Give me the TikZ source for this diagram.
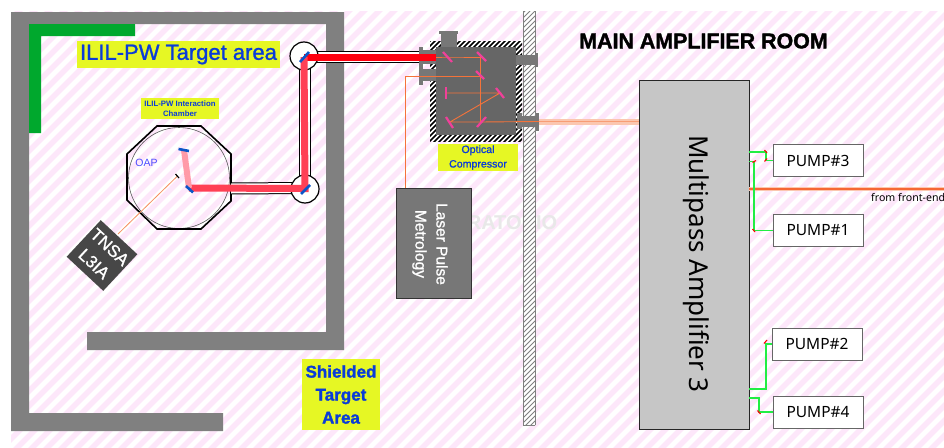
\documentclass[tikz,border=0pt]{standalone}
\usepackage{fontspec}
\setmainfont{Liberation Sans}
\newfontfamily\lucid{Noto Sans}
\newfontfamily\fakeb[FakeBold=1.2]{Liberation Sans}
\newfontfamily\fakebb[FakeBold=1.6]{Liberation Sans Bold}
\definecolor{stripepink}{HTML}{FDE7FA}
\definecolor{wallgray}{HTML}{808080}
\definecolor{portgray}{HTML}{777777}
\definecolor{compgray}{HTML}{666666}
\definecolor{wgreen}{HTML}{00A82D}
\definecolor{lab}{HTML}{E6F724}
\definecolor{labtext}{HTML}{0A3CD8}
\definecolor{beamred}{HTML}{FF0010}
\definecolor{beamlite}{HTML}{FF4055}
\definecolor{beampale}{HTML}{FF9AA8}
\definecolor{orline}{HTML}{F5733A}
\definecolor{mirblue}{HTML}{0B55C8}
\definecolor{mirpink}{HTML}{F0409A}
\definecolor{pumpgreen}{HTML}{22EE44}
\tikzset{
  x=1pt,y=-1pt,
  lbl/.style={fill=lab,text=labtext,inner sep=0pt,align=center,font=#1},
  tube/.style={draw=black,line width=1pt,double=white,double distance=10pt},
  bluemir/.style={draw=mirblue,line width=2.6pt},
  pinkmir/.style={draw=mirpink,line width=2.2pt},
  opt/.style={draw=orline,line width=0.9pt},
  pumpbox/.style={draw=gray!80!black,fill=white,line width=0.8pt,minimum width=90pt,minimum height=32pt,inner sep=0pt,font=\lucid\fontsize{15.5}{15.5}\selectfont},
  pumpline/.style={draw=pumpgreen,line width=1.3pt},
  tick/.style={draw=red,line width=1.1pt},
  port/.style={fill=portgray},
}
\begin{document}
\begin{tikzpicture}
\useasboundingbox (0,0) rectangle (944,447);
\fill[white] (0,0) rectangle (944,447);
% striped floor
\begin{scope}
\clip (11,11) rectangle (944,447);
\foreach \i in {0,15,...,1400}{
  \draw[stripepink,line width=5.5pt] (\i,0) -- (\i-460,460);
}
\end{scope}
% watermark
\node[text=gray!18,font=\bfseries\fontsize{20}{20}\selectfont,inner sep=0pt] (wm) at (512,223) {RATORIO};
% shield walls
\fill[wallgray] (11,12) -- (344,12) -- (344,350) -- (87,350) -- (87,332) -- (326,332) -- (326,24) -- (29,24) -- (29,413) -- (223,413) -- (223,431) -- (11,431) -- cycle;
\fill[wgreen] (29,24) -- (135,24) -- (135,36) -- (41,36) -- (41,133) -- (29,133) -- cycle;
% labels
\node[lbl=\fakeb\fontsize{22}{22}\selectfont,minimum width=203pt,minimum height=27pt] (targetlab) at (178.5,54.5) {ILIL-PW Target area};
\node[lbl=\bfseries\fontsize{7.8}{10}\selectfont,minimum width=78pt,minimum height=21pt] (chamberlab) at (180,108.5) {ILIL-PW Interaction\\Chamber};
\node[lbl=\fakebb\fontsize{17}{23}\selectfont,minimum width=78pt,minimum height=71pt] (shieldlab) at (341,394.5) {Shielded\\Target\\Area};
\node[font=\fakebb\fontsize{21.4}{22}\selectfont,inner sep=0pt] (mainroom) at (703.5,41) {MAIN AMPLIFIER ROOM};
% chamber
\node[circle,draw=gray!70!black,line width=0.6pt,minimum size=101pt,inner sep=0pt] (chambercirc) at (179,178) {};
\draw[black,line width=1.6pt] (157,126) -- (201,126) -- (231,154) -- (231,201) -- (201,229) -- (157,229) -- (127,200) -- (127,154) -- cycle;
% mirror positions
\coordinate (m1) at (304,57);
\coordinate (m2) at (305,188);
\coordinate (m3) at (189,188);
\coordinate (m4) at (184,150);
\coordinate (compin) at (436,57);
% tubes
\draw[tube] (231,188.5) -- (m2);
\draw[tube] (305,60) -- (305,185);
\draw[tube] (m1) -- (420,57);
\node[circle,draw=black,fill=white,line width=1.2pt,minimum size=28pt,inner sep=0pt] (c1) at (304,56) {};
\node[circle,draw=black,fill=white,line width=1.2pt,minimum size=28pt,inner sep=0pt] (c2) at (305,189) {};
% wall
\begin{scope}
\clip (523,11) rectangle (535,425);
\fill[white] (523,11) rectangle (535,425);
\foreach \i in {0,5,...,450}{
  \draw[gray,line width=1pt] (520,\i+11) -- (540,\i-9);
}
\end{scope}
\draw[gray,line width=0.5pt] (523,11) -- (523,425) (535,11) -- (535,425) (523,425) -- (535,425);
% compressor
\begin{scope}
\clip (430,41) rectangle (522,141);
\fill[white] (430,41) rectangle (522,141);
\foreach \i in {0,5,...,200}{
  \draw[black,line width=1.6pt] (425,\i+41) -- (530,\i-64);
}
\end{scope}
\fill[compgray] (436,47) rectangle (516,135);
% ports
\fill[port] (441,33) rectangle (457,47);
\fill[port] (439,31) rectangle (458,34);
\fill[port] (423,50) rectangle (436,64);
\fill[port] (419,47) rectangle (423,66);
\fill[port] (423,69) rectangle (436,81);
\fill[port] (419,66) rectangle (423,85);
\fill[port] (516,55) rectangle (535,65);
\fill[port] (535,53) rectangle (538,67);
\fill[port] (522,116) rectangle (537,127);
\fill[port] (517,113) rectangle (522,129);
\fill[port] (536,113) rectangle (539,131);
% outgoing pale beam
\coordinate (portout) at (539,121.5);
\draw[orline!40,line width=6pt] (portout) -- (639,121.5);
\draw[orline!70,line width=0.9pt] (portout) -- (639,121.5);
% compressor optics
\coordinate (g1) at (447.5,57);
\coordinate (g2) at (480,57);
\coordinate (g3) at (480,76);
\coordinate (g4) at (500,93);
\coordinate (g5) at (446,93);
\coordinate (g6) at (450,122);
\coordinate (g7) at (480,122);
\coordinate (metrotop) at (405,76);
\draw[opt] (compin) -- (g1) -- (g2) -- (g7);
\draw[opt] (g5) -- (g4) -- (g6) -- (g7) -- (portout);
\draw[opt] (g3) -- (metrotop);
\draw[pinkmir] (443,52) -- (452,62);
\draw[pinkmir] (477,52) -- (486,61);
\draw[pinkmir] (476,71) -- (484,79);
\draw[pinkmir] (446,87) -- (446,99);
\draw[pinkmir] (496,88) -- (504,98);
\draw[pinkmir] (446,117) -- (453,128);
\draw[pinkmir] (477,127) -- (486,117);
\node[lbl=\fakeb\fontsize{10.6}{14.5}\selectfont,minimum width=80pt,minimum height=27pt] (complab) at (478,157.5) {Optical\\Compressor};
% beams
\draw[beamred,line width=7pt] (m1) -- (compin);
\draw[beamlite,line width=7pt,line join=miter] (m1) -- (305,188.5) -- (m3);
\draw[beampale,line width=6pt] (m3) -- (m4);
\draw[bluemir] (300,62) -- (309,52);
\draw[bluemir] (301,194) -- (310,185);
\draw[bluemir] (186,186) -- (193,192.5);
\draw[bluemir] (178.5,149) -- (189,151);
% target line
\node[rotate=-43,fill=black!72,text=white,font=\fakeb\fontsize{17}{23}\selectfont,minimum width=50pt,minimum height=50pt,inner sep=0pt,align=center] (tnsa) at (102,255.5) {TNSA\\L3IA};
\coordinate (focus) at (177.5,176);
\draw[orline!80,line width=0.8pt] (focus) -- (118,234);
\draw[black,line width=1.2pt] (175.5,174) -- (179,178);
\node[text=blue!70!white,font=\fontsize{10.5}{10}\selectfont,inner sep=0pt] (oap) at (146.5,163) {OAP};
% metrology
\node[draw=black!80,fill=portgray,line width=0.9pt,minimum width=75pt,minimum height=110pt,inner sep=0pt] (metro) at (433.5,243) {};
\node[rotate=-90,text=white,font=\fakeb\fontsize{15.5}{21}\selectfont,align=center,inner sep=0pt] (metrotxt) at (430,244) {Laser Pulse\\Metrology};
\draw[opt] (metrotop) -- (metro.north -| metrotop);
% amplifier
\node[draw=black!85,fill=gray!45,line width=0.9pt,minimum width=110pt,minimum height=349pt,inner sep=0pt] (amp) at (694,254.5) {};
\node[rotate=-90,font=\lucid\fontsize{26}{26}\selectfont,inner sep=0pt] (amptxt) at (696,264) {Multipass Amplifier 3};
% pumps
\node[pumpbox] (p3) at (818,160.5) {PUMP\#3};
\node[pumpbox] (p1) at (818,230.5) {PUMP\#1};
\node[pumpbox] (p2) at (817,344) {PUMP\#2};
\node[pumpbox] (p4) at (818,412) {PUMP\#4};
% front-end
\coordinate (fe) at (944,189);
\draw[orline!40,line width=3.5pt] (amp.east |- fe) -- (fe);
\draw[orline!90!red,line width=2pt] (amp.east |- fe) -- (fe);
\node[anchor=west,font=\lucid\fontsize{10.6}{10}\selectfont,inner sep=0pt] (fetxt) at (871,197) {from front-end};
% pump connectors
\draw[pumpline] (amp.east |- 0,152) -- (766,152) -- (766,160.5) -- (p3.west);
\draw[pumpline] (amp.east |- 0,161.5) -- (754,161.5) -- (754,230.5) -- (p1.west);
\draw[pumpline] (amp.east |- 0,389) -- (766,389) -- (766,344) -- (p2.west);
\draw[pumpline] (amp.east |- 0,398) -- (759,398) -- (759,412) -- (p4.west);
\draw[tick] (764.5,150) -- (767,153);
\draw[tick] (764.5,161.5) -- (767,158.5);
\draw[tick] (752.5,162.5) -- (756,160.5);
\draw[tick] (752.5,229) -- (755,232);
\draw[tick] (764,343.5) -- (767,340);
\draw[tick] (757.5,410.5) -- (760.5,414);
\end{tikzpicture}
\end{document}
